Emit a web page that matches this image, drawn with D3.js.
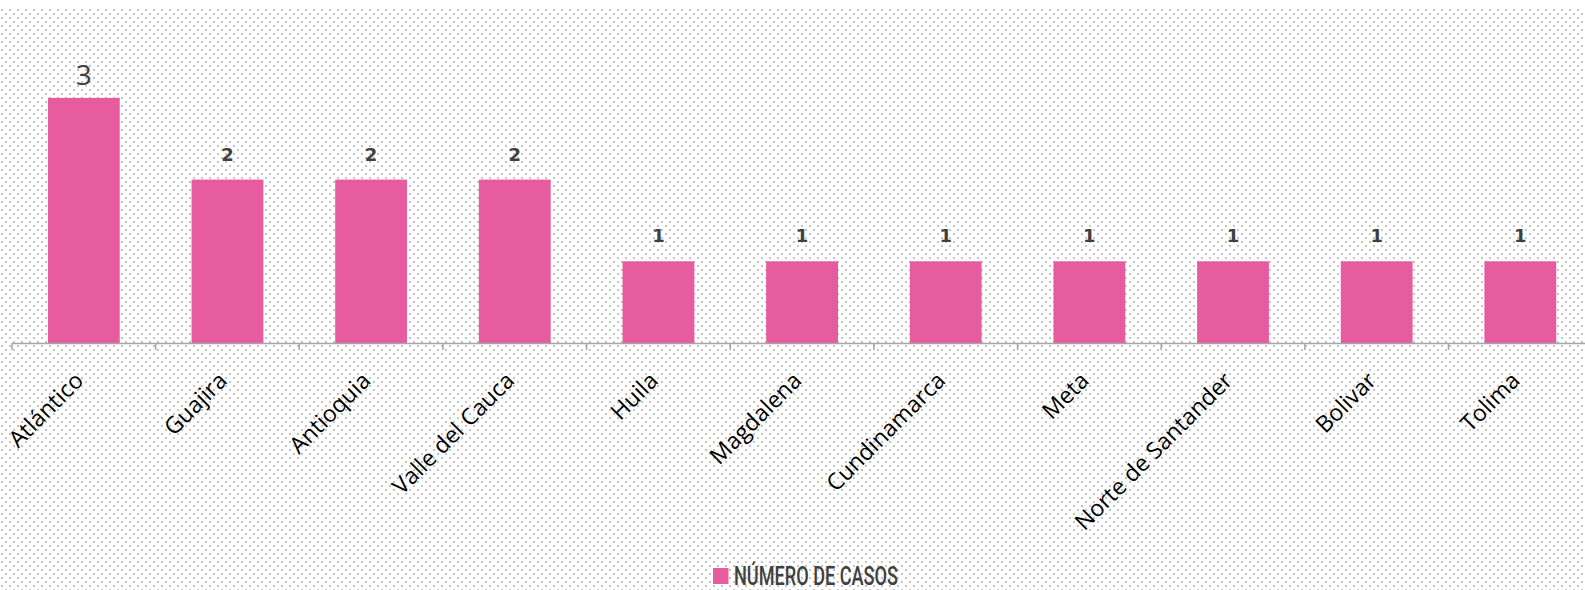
<!DOCTYPE html>
<html><head><meta charset="utf-8">
<script src="https://cdn.jsdelivr.net/npm/d3@7"></script>
<style>html,body{margin:0;padding:0;background:#fff}svg{display:block}</style>
</head><body>
<svg id="chart" width="1585" height="590"></svg>
<script>
const categories = ["Atlántico","Guajira","Antioquia","Valle del Cauca","Huila","Magdalena","Cundinamarca","Meta","Norte de Santander","Bolivar","Tolima"];
const values = [3,2,2,2,1,1,1,1,1,1,1];
const seriesName = "NÚMERO DE CASOS";
const yDomain = [0,4];

const W = 1585, H = 590;
const svg = d3.select("#chart");
const defs = svg.append("defs");
const pat = defs.append("pattern").attr("id","dots").attr("patternUnits","userSpaceOnUse")
  .attr("width",8).attr("height",8);
pat.append("rect").attr("x",1).attr("y",1).attr("width",2).attr("height",2).attr("fill","#c4c4c4");
pat.append("rect").attr("x",5).attr("y",5).attr("width",2).attr("height",2).attr("fill","#c4c4c4");

svg.append("rect").attr("width",W).attr("height",H).attr("fill","#fff");
svg.append("rect").attr("x",0).attr("y",8).attr("width",W).attr("height",H-8).attr("fill","url(#dots)");

const axisY = 343;
const x = d3.scaleBand().domain(categories).range([12, 12 + 11*143.65]).paddingInner(0.5).paddingOuter(0.25);
const y = d3.scaleLinear().domain(yDomain).range([axisY, 16.2]);
const gap = (x.step() - x.bandwidth())/2;
const pink = "#E65C9F";

// bars
svg.append("g").selectAll("rect").data(values).join("rect")
  .attr("x",(d,i)=>x(categories[i]))
  .attr("y",d=>y(d))
  .attr("width",x.bandwidth())
  .attr("height",d=>y(0)-y(d))
  .attr("fill",pink);

// axis line + ticks
const ax = svg.append("g").attr("stroke","#a6a6a6").attr("stroke-width",1.5);
ax.append("line").attr("x1",x.range()[0]).attr("x2",W).attr("y1",axisY+0.5).attr("y2",axisY+0.5);
ax.selectAll("line.t").data(categories).join("line").attr("class","t")
  .attr("x1",d=>x(d)-gap).attr("x2",d=>x(d)-gap)
  .attr("y1",axisY).attr("y2",axisY+7);

// value labels
const maxV = d3.max(values);
svg.append("g").selectAll("text").data(values).join("text")
  .attr("x",(d,i)=>x(categories[i])+x.bandwidth()/2)
  .attr("y",d=> d===maxV ? y(d)-13 : y(d)-19)
  .attr("text-anchor","middle")
  .attr("fill","#404040")
  .attr("font-family",d=> d===maxV ? "'Open Sans', sans-serif" : "'DejaVu Sans', sans-serif")
  .attr("font-weight",d=> d===maxV ? "normal" : "bold")
  .attr("font-size",d=> d===maxV ? 28 : 18)
  .text(d=>d);

// category labels
svg.append("g").selectAll("text").data(categories).join("text")
  .attr("transform",d=>`translate(${x(d)+x.bandwidth()/2+1},${axisY+39}) rotate(-45)`)
  .attr("text-anchor","end")
  .attr("fill","#000")
  .attr("font-family","'Open Sans', sans-serif")
  .attr("font-size",23)
  .text(d=>d);

// legend
const lg = svg.append("g");
lg.append("rect").attr("x",713).attr("y",568).attr("width",15.5).attr("height",16).attr("fill",pink);
lg.append("text").attr("x",734).attr("y",585).attr("fill","#404040")
  .attr("font-family","Roboto, sans-serif").attr("font-weight",500).attr("font-size",26)
  .attr("textLength",164).attr("lengthAdjust","spacingAndGlyphs")
  .text(seriesName);
</script>
</body></html>
